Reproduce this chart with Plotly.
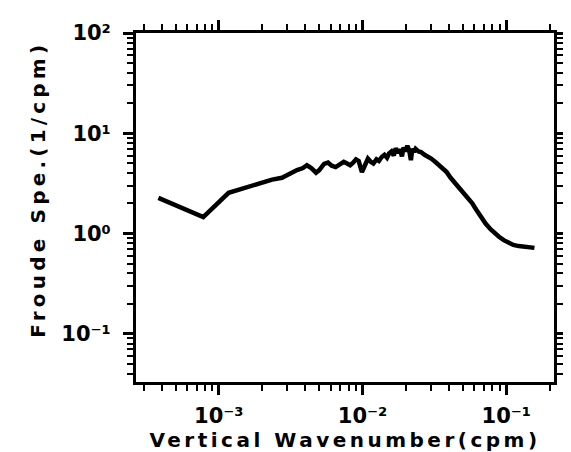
import plotly.graph_objects as go

# Vertical wavenumber (cpm) and Froude spectrum (1/cpm)
wavenumber = [
    3.8e-4, 7.8e-4, 1.17e-3, 1.55e-3, 1.95e-3, 2.35e-3, 2.75e-3, 3.1e-3, 3.5e-3, 3.85e-3,
    4.1e-3, 4.4e-3, 4.75e-3, 5.0e-3, 5.4e-3, 5.75e-3, 6.1e-3, 6.5e-3, 6.9e-3, 7.4e-3,
    7.8e-3, 8.2e-3, 8.6e-3, 9.0e-3, 9.4e-3, 9.9e-3, 1.04e-2, 1.09e-2, 1.14e-2, 1.19e-2,
    1.25e-2, 1.30e-2, 1.36e-2, 1.42e-2, 1.48e-2, 1.53e-2, 1.59e-2, 1.65e-2, 1.70e-2, 1.76e-2,
    1.82e-2, 1.88e-2, 1.93e-2, 1.99e-2, 2.05e-2, 2.11e-2, 2.17e-2, 2.22e-2, 2.28e-2, 2.34e-2,
    2.45e-2, 2.55e-2, 2.7e-2, 2.85e-2, 3.0e-2, 3.2e-2, 3.4e-2, 3.6e-2, 3.85e-2, 4.1e-2,
    4.4e-2, 4.7e-2, 5.0e-2, 5.4e-2, 5.8e-2, 6.2e-2, 6.7e-2, 7.2e-2, 7.8e-2, 8.3e-2,
    8.9e-2, 9.6e-2, 0.104, 0.112, 0.122, 0.134, 0.146, 0.157,
]
froude_spec = [
    2.27, 1.46, 2.55, 2.9, 3.25, 3.45, 3.6, 3.95, 4.3, 4.5,
    4.8, 4.5, 4.05, 4.3, 4.95, 5.1, 4.75, 4.6, 4.9, 5.2,
    5.0, 4.8, 5.1, 5.5, 5.3, 4.1, 4.8, 5.6, 5.2, 5.0,
    5.5, 5.3, 5.8, 6.1, 5.7, 6.3, 6.6, 6.0, 7.1, 6.4,
    6.9, 5.9, 7.2, 6.6, 7.5, 6.8, 5.4, 7.0, 6.5, 7.0,
    6.6, 6.5, 6.1, 5.9, 5.6, 5.2, 4.8, 4.4, 4.1, 3.6,
    3.2, 2.9, 2.6, 2.25, 2.0, 1.72, 1.45, 1.25, 1.1, 1.0,
    0.93, 0.86, 0.8, 0.77, 0.75, 0.735, 0.725, 0.72,
]

x_tickvals = [1e-3, 1e-2, 1e-1]
x_ticktext = ["10⁻³", "10⁻²", "10⁻¹"]
y_tickvals = [1e-1, 1e0, 1e1, 1e2]
y_ticktext = ["10⁻¹", "10⁰", "10¹", "10²"]
x_title = "Vertical Wavenumber(cpm)"
y_title = "Froude Spe.(1/cpm)"

FONT = "DejaVu Sans"

fig = go.Figure()
fig.add_trace(go.Scatter(
    x=wavenumber, y=froude_spec, mode="lines",
    line=dict(color="black", width=4.5, shape="linear"),
    showlegend=False, hoverinfo="skip",
))

axis_common = dict(
    type="log",
    showline=True, linecolor="black", linewidth=3,
    mirror="allticks",
    ticks="outside", ticklen=10, tickwidth=2.5, tickcolor="black",
    minor=dict(dtick="D1", ticks="outside", ticklen=6, tickwidth=2,
               tickcolor="black", showgrid=False),
    showgrid=False, zeroline=False,
    tickfont=dict(family=FONT, size=21, color="black", weight="bold"),
)

fig.update_layout(
    width=571, height=452,
    margin=dict(l=128, r=14, t=21, b=78),
    paper_bgcolor="white", plot_bgcolor="white",
    xaxis=dict(
        **axis_common,
        range=[-3.576, -0.668],
        tickvals=x_tickvals, ticktext=x_ticktext,
        ticklabelstandoff=3,
        title=dict(text=x_title,
                   font=dict(family=FONT, size=20, color="black", weight="bold"),
                   standoff=2),
    ),
    yaxis=dict(
        **axis_common,
        range=[-1.48, 2],
        tickvals=y_tickvals, ticktext=y_ticktext,
        ticklabelstandoff=8,
    ),
    annotations=[dict(
        text=y_title, textangle=-90,
        xref="paper", yref="paper", x=0, y=0.55,
        xanchor="center", yanchor="middle", xshift=-98,
        showarrow=False,
        font=dict(family=FONT, size=20, color="black", weight="bold"),
    )],
)

post = ("document.querySelectorAll('.xtitle').forEach(function(e){"
        "e.style.letterSpacing='3.5px';});"
        "document.querySelectorAll('.annotation-text').forEach(function(e){"
        "e.style.letterSpacing='4.2px';});")
fig.write_html("out.html", post_script=post)
